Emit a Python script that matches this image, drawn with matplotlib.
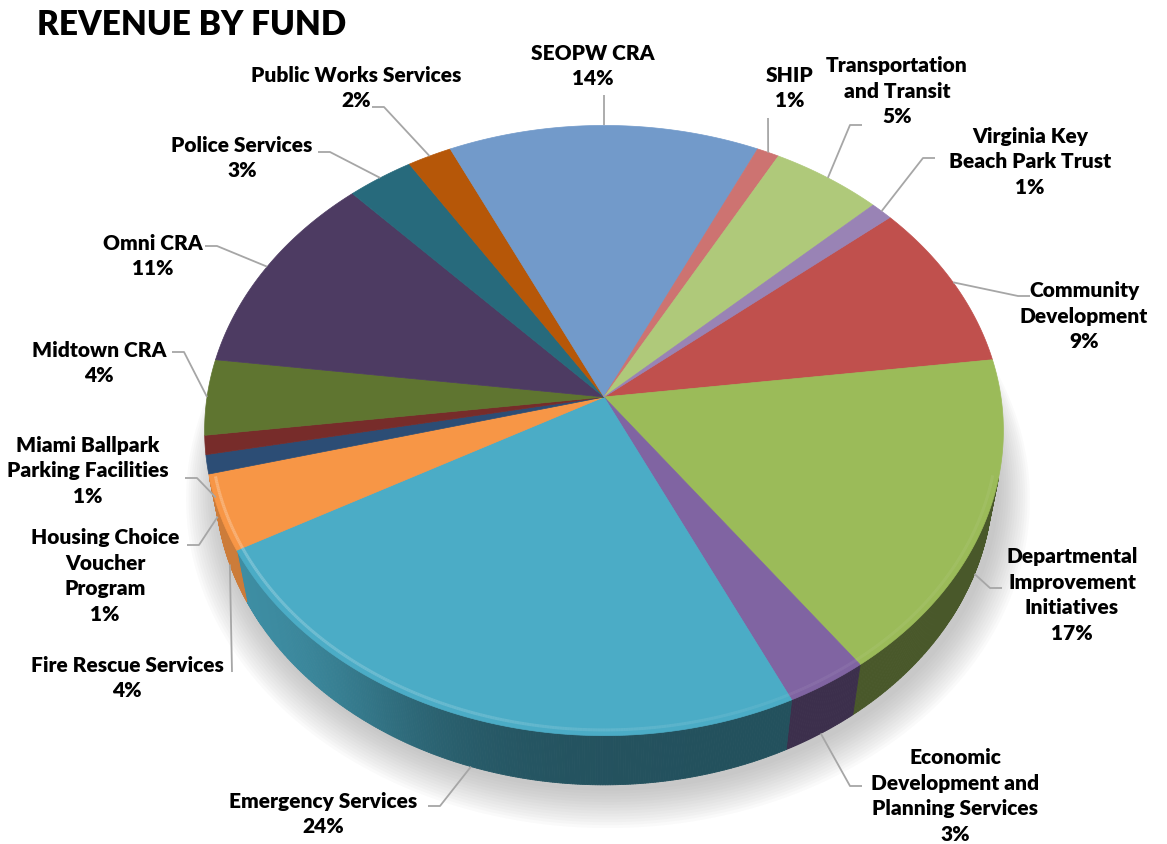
import numpy as np
import matplotlib
matplotlib.use("Agg")
import matplotlib.pyplot as plt
from matplotlib.patches import Polygon
from matplotlib.collections import PolyCollection, LineCollection
from matplotlib.colors import to_rgb

# data (Excel order, clockwise from the first slice)
funds = ["Community\nDevelopment", "Departmental\nImprovement\nInitiatives",
         "Economic\nDevelopment and\nPlanning Services", "Emergency Services",
         "Fire Rescue Services", "Housing Choice\nVoucher\nProgram",
         "Miami Ballpark\nParking Facilities", "Midtown CRA", "Omni CRA",
         "Police Services", "Public Works Services", "SEOPW CRA", "SHIP",
         "Transportation\nand Transit", "Virginia Key\nBeach Park Trust"]
shares = [9, 17, 3, 24, 4, 1, 1, 4, 11, 3, 2, 14, 1, 5, 1]
colors = ["#C0504D", "#9BBB59", "#8064A2", "#4BACC6", "#F79646", "#2C4D75",
          "#772C2A", "#5F7530", "#4D3B62", "#276A7C", "#B65708", "#729ACA",
          "#CD7371", "#AFC97A", "#9983B5"]
first_angle = 50.4

# label layout (pixels): text centre and where the leader line starts
text_xy = [(1084, 316), (1072, 595), (955, 796), (323, 814), (127, 678),
           (105, 576), (88, 471), (99, 363), (153, 256), (242, 158),
           (356, 88), (593, 66), (790, 88), (897, 91), (1030, 162)]
anchor_xy = [(1030, 296), (1002, 588), (862, 786), (428, 806), (232, 672),
             (187, 545), (185, 478), (172, 352), (205, 246), (318, 152),
             (372, 107), (604, 95), (768, 118), (862, 125), (935, 158)]

# 3d view
CX, CY = 604, 397
tilt = np.radians(49.4)
sa, ca = np.sin(tilt), np.cos(tilt)
D = 5.92
F = 2350.0
H = 0.21


def proj(phi, z, r=1.0):
    X = r * np.cos(phi)
    Y = r * np.sin(phi)
    d = D + Y * ca - z * sa
    return CX + F * X / d, CY - F * (Y * sa + z * ca) / d


def shade(phi):
    deg = np.degrees(phi) % 360
    return 0.47 + 0.36 / (1 + np.exp((deg - 240) / 8))


def lighten(c, k):
    c = np.array(to_rgb(c))
    return tuple(c + (1 - c) * k)


fig = plt.figure(figsize=(11.67, 8.44), dpi=100)
ax = fig.add_axes([0, 0, 1, 1])
ax.set_xlim(0, 1167)
ax.set_ylim(844, 0)
ax.axis("off")

total = sum(shares)
starts = first_angle + 360.0 * np.concatenate([[0], np.cumsum(shares)[:-1]]) / total
ends = starts + 360.0 * np.array(shares) / total

# soft shadow under the pie
ring = np.linspace(0, 2 * np.pi, 240)
for k in range(14, 0, -1):
    sx, sy = proj(ring, -H, r=1.0 + 0.006 * k)
    ax.add_patch(Polygon(np.column_stack([sx + 4, sy + 3 + k * 0.6]), closed=True,
                         facecolor="#7f7f7f", edgecolor="none", alpha=0.035, zorder=1))

# side walls (only faces turned to the viewer)
quads, qcols = [], []
for a, b, col in zip(starts, ends, colors):
    phis = np.radians(90 - np.linspace(a, b, max(int((b - a) * 3), 2) + 1))
    for p1, p2 in zip(phis[:-1], phis[1:]):
        pm = 0.5 * (p1 + p2)
        if np.sin(pm) >= -1.0 / (D * ca):
            continue
        t1 = proj(p1, 0)
        t2 = proj(p2, 0)
        b2 = proj(p2, -H)
        b1 = proj(p1, -H)
        quads.append([t1, t2, b2, b1])
        qcols.append(tuple(np.array(to_rgb(col)) * shade(pm)))
ax.add_collection(PolyCollection(quads, facecolors=qcols, edgecolors=qcols,
                                 linewidths=0.6, zorder=2))

# top faces
for a, b, col in zip(starts, ends, colors):
    phis = np.radians(90 - np.linspace(a, b, max(int((b - a) * 2), 2) + 1))
    sx, sy = proj(phis, 0)
    pts = np.vstack([[CX, CY], np.column_stack([sx, sy])])
    ax.add_patch(Polygon(pts, closed=True, facecolor=col, edgecolor=col,
                         linewidth=0.5, zorder=3))

# bevel highlight on the front rim
segs, scols = [], []
for a, b, col in zip(starts, ends, colors):
    phis = np.radians(90 - np.linspace(a, b, max(int((b - a) * 3), 2) + 1))
    for p1, p2 in zip(phis[:-1], phis[1:]):
        deg = np.degrees(0.5 * (p1 + p2)) % 360
        if deg < 195 or deg > 345:
            continue
        alpha = 0.85 - 0.65 * np.clip((deg - 205) / 90, 0, 1)
        segs.append([proj(p1, 0, 0.985), proj(p2, 0, 0.985)])
        scols.append(lighten(col, 0.3) + (alpha,))
ax.add_collection(LineCollection(segs, colors=scols, linewidths=2.2, zorder=4))

# labels and leader lines
for name, val, a, b, (tx, ty), (lx, ly) in zip(funds, shares, starts, ends,
                                               text_xy, anchor_xy):
    mid = np.radians(90 - 0.5 * (a + b))
    z = -H if np.sin(mid) < -1e-6 else 0
    ex, ey = proj(mid, z)
    if abs(ex - lx) < 8:
        xs, ys = [lx, ex], [ly, ey]
    else:
        side = 1 if ex > lx else -1
        xs, ys = [lx, lx + 12 * side, ex], [ly, ly, ey]
    ax.plot(xs, ys, color="#a6a6a6", lw=1.3, zorder=5, solid_capstyle="butt")
    ax.text(tx, ty, f"{name}\n{val}%", ha="center", va="center", fontsize=15,
            fontweight="heavy", family="Lato", linespacing=1.4, zorder=6)

ax.text(37, 25, "REVENUE BY FUND", ha="left", va="center", fontsize=24,
        fontweight="heavy", family="Lato")

fig.savefig("out.png", dpi=100)
